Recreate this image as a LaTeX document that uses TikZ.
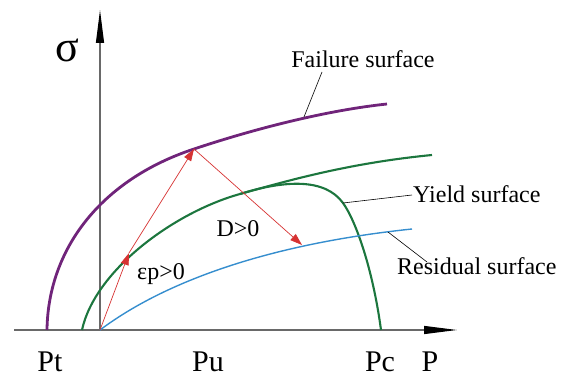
\documentclass[tikz,border=0pt]{standalone}
\usepackage{fontspec}
\setmainfont{Liberation Serif}
\usetikzlibrary{arrows.meta}

\definecolor{failcol}{RGB}{112,36,122}
\definecolor{yieldcol}{RGB}{28,118,62}
\definecolor{rescol}{RGB}{54,142,206}
\definecolor{loadcol}{RGB}{214,50,50}
\definecolor{axiscol}{RGB}{105,105,105}

\begin{document}
\begin{tikzpicture}[
		x=1pt, y=-1pt,
		axis/.style={draw=axiscol, line width=1.2pt, -{Triangle[length=33pt,width=8pt,color=black]}},
		failure/.style={draw=failcol, line width=2.8pt},
		yieldline/.style={draw=yieldcol, line width=2.1pt},
		residual/.style={draw=rescol, line width=1.4pt},
		loadpath/.style={draw=loadcol, line width=0.7pt, -{Triangle[length=12pt,width=8pt]}},
		leader/.style={draw=black, line width=0.6pt},
		lbl/.style={font=\fontsize{24}{28}\selectfont, inner sep=0pt, anchor=base},
		axlbl/.style={font=\fontsize{30}{34}\selectfont, inner sep=0pt, anchor=base}
	]
	\useasboundingbox (0,0) rectangle (568,379);
	
	% Axes
	\coordinate (o) at (100,330);
	\coordinate (xstart) at (14,330);
	\coordinate (xend) at (457,330);
	\coordinate (yend) at (100,10);
	\draw[axis] (xstart) -- (xend);
	\draw[axis] (o) -- (yend);
	
	% Surfaces
	\draw[failure] (47,330) .. controls (48,250) and (100,180) .. (194,149)
		.. controls (260,127) and (330,110) .. (387,104);
	\draw[yieldline] (82,330) .. controls (95,270) and (175,212) .. (240,194)
		.. controls (290,180) and (350,163) .. (432,155);
	\draw[yieldline] (240,194) .. controls (285,180) and (325,178) .. (343,203)
		.. controls (356,221) and (373,270) .. (381,330);
	\draw[residual] (100,330) .. controls (160,285) and (260,245) .. (412,229);
	
	% Loading path
	\coordinate (ya) at (129,253);
	\coordinate (fb) at (194,149);
	\coordinate (rc) at (302,245);
	\draw[loadpath] (o) -- (ya);
	\draw[loadpath] (ya) -- (fb);
	\draw[loadpath] (fb) -- (rc);
	
	% Labels
	\node[font=\fontsize{44}{48}\selectfont, inner sep=0pt, anchor=base] (sigma) at (67,62) {σ};
	\node[axlbl] (pt) at (50,372) {Pt};
	\node[axlbl] (pu) at (208,372) {Pu};
	\node[axlbl] (pc) at (380,372) {Pc};
	\node[axlbl] (p) at (430,372) {P};
	\node[lbl] (fail) at (363,68) {Failure surface};
	\node[lbl, anchor=base west] (yield) at (413,203) {Yield surface};
	\node[lbl, anchor=base west] (resid) at (397,275) {Residual surface};
	\node[lbl] (dmg) at (238,237) {D>0};
	\node[lbl] (plast) at (161,280) {εp>0};
	
	% Leaders
	\coordinate (fcurve) at (304,117);
	\coordinate (ftext) at (322,72);
	\coordinate (ycurve) at (343,203);
	\coordinate (ytext) at (412,195);
	\coordinate (rcurve) at (388,232);
	\coordinate (rtext) at (427,262);
	\draw[leader] (fcurve) -- (ftext);
	\draw[leader] (ycurve) -- (ytext);
	\draw[leader] (rcurve) -- (rtext);
\end{tikzpicture}
\end{document}
